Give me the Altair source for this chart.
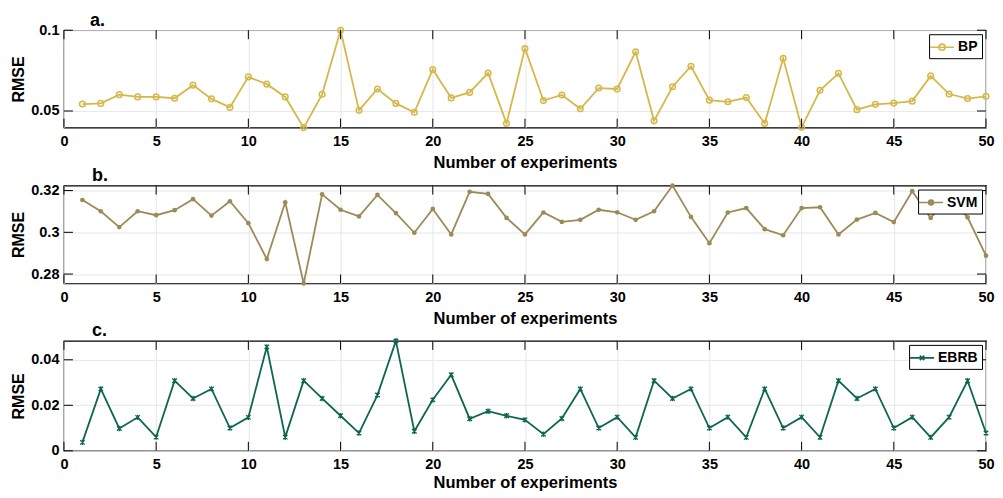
import altair as alt
import pandas as pd

# ---------------- data ----------------
experiments = list(range(1, 51))

bp = [0.0543, 0.0547, 0.0601, 0.0587, 0.0587, 0.0579, 0.0660, 0.0575, 0.0522, 0.0711,
      0.0666, 0.0587, 0.0397, 0.0603, 0.1000, 0.0504, 0.0636, 0.0547, 0.0492, 0.0757,
      0.0581, 0.0615, 0.0735, 0.0423, 0.0887, 0.0565, 0.0599, 0.0514, 0.0642, 0.0636,
      0.0866, 0.0439, 0.0650, 0.0777, 0.0567, 0.0557, 0.0583, 0.0423, 0.0826, 0.0399,
      0.0628, 0.0733, 0.0508, 0.0541, 0.0549, 0.0561, 0.0717, 0.0605, 0.0577, 0.0591]

svm = [0.3155, 0.3101, 0.3025, 0.3101, 0.3082, 0.3106, 0.3159, 0.3080, 0.3149, 0.3044,
       0.2872, 0.3144, 0.2755, 0.3182, 0.3108, 0.3076, 0.3179, 0.3092, 0.2998, 0.3112,
       0.2990, 0.3194, 0.3184, 0.3069, 0.2990, 0.3095, 0.3050, 0.3060, 0.3108, 0.3096,
       0.3060, 0.3101, 0.3224, 0.3074, 0.2948, 0.3095, 0.3116, 0.3015, 0.2986, 0.3116,
       0.3120, 0.2990, 0.3061, 0.3093, 0.3049, 0.3197, 0.3069, 0.3175, 0.3072, 0.2888]

ebrb = [0.0037, 0.0272, 0.0098, 0.0147, 0.0060, 0.0308, 0.0230, 0.0272, 0.0100, 0.0147,
        0.0457, 0.0060, 0.0308, 0.0230, 0.0154, 0.0078, 0.0245, 0.0483, 0.0086, 0.0224,
        0.0334, 0.0141, 0.0174, 0.0154, 0.0136, 0.0073, 0.0142, 0.0272, 0.0100, 0.0148,
        0.0059, 0.0308, 0.0230, 0.0272, 0.0100, 0.0148, 0.0059, 0.0272, 0.0100, 0.0148,
        0.0059, 0.0308, 0.0230, 0.0272, 0.0100, 0.0148, 0.0059, 0.0148, 0.0308, 0.0078]

x_ticks = [0, 5, 10, 15, 20, 25, 30, 35, 40, 45, 50]
bp_yticks = [0.05, 0.1]
svm_yticks = [0.28, 0.3, 0.32]
ebrb_yticks = [0, 0.02, 0.04]

# ---------------- style ----------------
W = 923
FONT = "Liberation Sans"
TICK_LEN = 9


def panel(values, name, color, shape, filled, msize, mstroke, ydomain, yticks,
          label, label_x, height, legend_path, legend_fill, xtitle_pad):
    df = pd.DataFrame({"x": experiments, "y": values, "series": name})
    xs = alt.Scale(domain=[0, 50], nice=False, zero=False)
    ys = alt.Scale(domain=ydomain, nice=False, zero=False)
    xaxis = alt.Axis(values=x_ticks, title="Number of experiments", format="d",
                     ticks=False, domain=False, labelPadding=7,
                     labelFont=FONT, labelFontSize=14.5, labelFontWeight="bold",
                     labelColor="black", titleFont=FONT, titleFontSize=16.5,
                     titleFontWeight="bold", titleColor="black", titlePadding=xtitle_pad,
                     grid=True, gridColor="#e6e6e6", labelFlush=False)
    yaxis = alt.Axis(values=yticks, title="RMSE", format="~g",
                     ticks=False, domain=False, labelPadding=5,
                     labelFont=FONT, labelFontSize=14.5, labelFontWeight="bold",
                     labelColor="black", titleFont=FONT, titleFontSize=16,
                     titleFontWeight="bold", titleColor="black", titlePadding=3.5,
                     grid=True, gridColor="#e6e6e6", minExtent=34, maxExtent=34)
    X = alt.X("x:Q", scale=xs, axis=xaxis)
    Y = alt.Y("y:Q", scale=ys, axis=yaxis)

    base = alt.Chart(df)
    line = base.mark_line(strokeWidth=1.8, clip=False).encode(
        x=X, y=Y,
        color=alt.Color("series:N",
                        scale=alt.Scale(domain=[name], range=[color]),
                        legend=alt.Legend(
                            title=None, orient="top-right", offset=4, padding=4,
                            strokeColor="black", fillColor="white",
                            labelFont=FONT, labelFontSize=14, labelFontWeight="bold",
                            labelColor="black", labelOffset=7,
                            symbolType=legend_path, symbolSize=256,
                            symbolStrokeWidth=1.6, symbolStrokeColor=color,
                            symbolFillColor=legend_fill, symbolOpacity=1)))
    pts = base.mark_point(shape=shape, filled=filled, size=msize,
                          strokeWidth=mstroke, color=color, opacity=1,
                          clip=False).encode(x=X, y=Y)

    xt = alt.Chart(pd.DataFrame({"x": x_ticks}))
    yt = alt.Chart(pd.DataFrame({"y": yticks}))
    tb = xt.mark_rule(color="black", strokeWidth=1).encode(
        x=X, y=alt.value(height), y2=alt.value(height - TICK_LEN))
    tt = xt.mark_rule(color="black", strokeWidth=1).encode(
        x=X, y=alt.value(0), y2=alt.value(TICK_LEN))
    tl = yt.mark_rule(color="black", strokeWidth=1).encode(
        y=Y, x=alt.value(0), x2=alt.value(TICK_LEN))
    tr = yt.mark_rule(color="black", strokeWidth=1).encode(
        y=Y, x=alt.value(W - TICK_LEN), x2=alt.value(W))

    lab = alt.Chart(pd.DataFrame({"t": [label]})).mark_text(
        font=FONT, fontSize=18, fontWeight="bold", color="black",
        align="left", baseline="alphabetic").encode(
        text="t:N", x=alt.value(label_x), y=alt.value(-4.5))

    return alt.layer(line, pts, tb, tt, tl, tr, lab).properties(width=W, height=height)


pa = panel(bp, "BP", "#D6B84A", "circle", False, 32, 1.5,
           [0.0397, 0.1], bp_yticks, "a.", 26, 97.5,
           "M-1.5,0H1.5M-0.38,0A0.38,0.38,0,1,1,0.38,0A0.38,0.38,0,1,1,-0.38,0",
           "transparent", 6)
pb = panel(svm, "SVM", "#9C8A58", "circle", True, 22, 0,
           [0.2755, 0.3224], svm_yticks, "b.", 28, 98,
           "M-1.5,0H1.5M-0.3,0A0.3,0.3,0,1,1,0.3,0A0.3,0.3,0,1,1,-0.3,0",
           "#9C8A58", 7)
pc = panel(ebrb, "EBRB", "#0E6650", "M-1,-1L1,1M-1,1L1,-1M0,-1.2L0,1.2", False, 20, 1.3,
           [0, 0.0483], ebrb_yticks, "c.", 28, 110,
           "M-1.5,0H1.5M-0.28,-0.28L0.28,0.28M-0.28,0.28L0.28,-0.28",
           "transparent", 3)

chart = alt.vconcat(pa, pb, pc, spacing=57.5, bounds="flush").resolve_scale(
    color="independent", y="independent", x="independent"
).configure_view(stroke="black", strokeWidth=1.2).properties(
    padding={"left": 1, "right": 0, "top": 2, "bottom": 0}, background="white")

chart.save("out.html", embed_options={"renderer": "svg", "actions": False})
